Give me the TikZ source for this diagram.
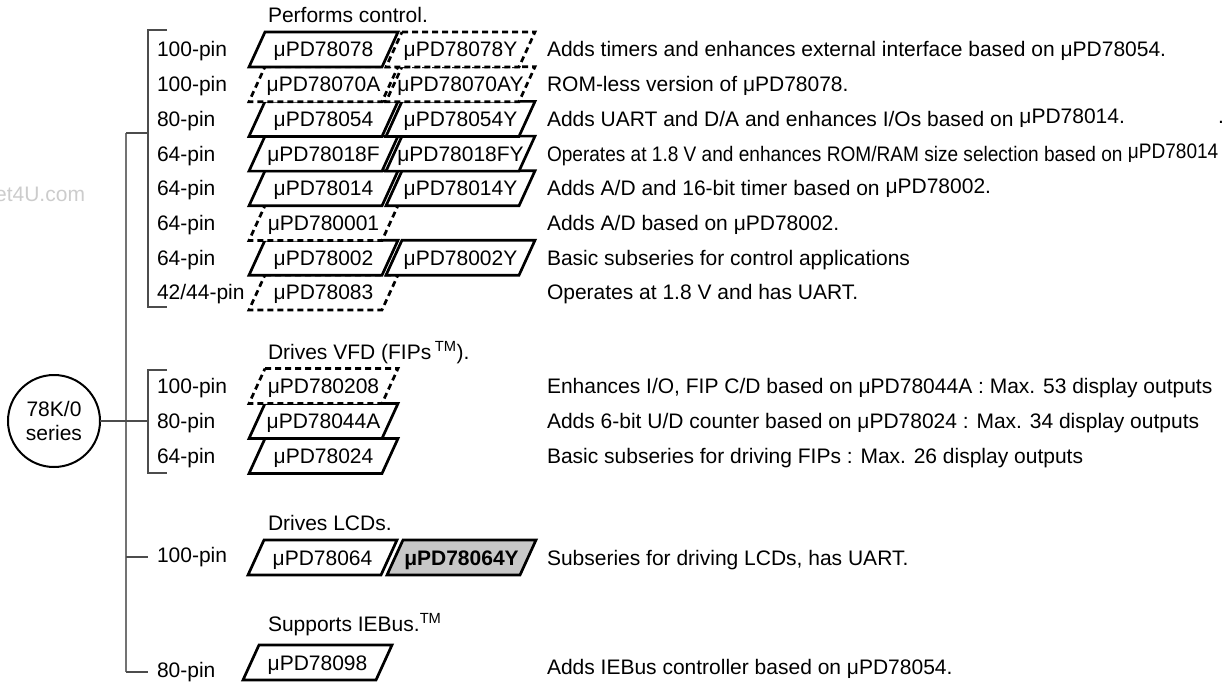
\documentclass[tikz,border=0pt]{standalone}
\usepackage{fontspec}
\setmainfont{Liberation Sans}
\usepackage{graphicx}
\newcommand\pgram[5]{% #1 style, #2 name, #3 x0 (bottom-left), #4 top y, #5 text
  \path[#1] (#3+16,#4) -- (#3+149,#4) -- (#3+133,#4+35) -- (#3,#4+35) -- cycle;
  \node[chip] (#2) at (#3+74.5,#4+25) {#5};}
\begin{document}
\begin{tikzpicture}[x=1pt,y=-1pt,
  every node/.style={inner sep=0pt,outer sep=0pt},
  txt/.style={font=\fontsize{21}{25}\selectfont,anchor=base west},
  chip/.style={font=\fontsize{21}{25}\selectfont,anchor=base},
  ps/.style={draw=black,fill=white,line width=2.7pt,line join=miter},
  pd/.style={draw=black,fill=white,line width=2.7pt,dash pattern=on 6pt off 4pt,
     preaction={draw=white,solid,fill=white}},
  pg/.style={ps,fill=black!22},
  brk/.style={draw=black!70,line width=1.3pt},
  trunk/.style={draw=black!55,line width=2pt}]
\useasboundingbox (0,0) rectangle (1225,682);

% watermark
\node[font=\fontsize{21}{25}\selectfont,text=black!20,anchor=base east] (wm) at (85,201.5) {et4U.com};

% series circle
\node[circle,draw=black,line width=2pt,minimum size=92pt,align=center,
      font=\fontsize{21}{24}\selectfont] (series) at (54,421) {78K/0\\series};

% trunk and brackets
\coordinate (tt) at (126,133);
\coordinate (tb) at (126,672);
\draw[trunk] (tt) -- (tb);
\draw[brk] (167,30) -- (148,30) -- (148,307) -- (167,307);
\draw[brk] (tt) -- (148,133);
\draw[brk] (167,370) -- (148,370) -- (148,473) -- (167,473);
\draw[brk] (series.east) -- (148,421);
\draw[brk] (126,557) -- (148,557);
\draw[brk] (tb) -- (148,672);

% titles
\node[txt] (t1) at (268,22.5) {Performs control.};
\node[txt] (t2) at (268,359.5) {Drives VFD (FIPs\,\textsuperscript{TM}).};
\node[txt] (t3) at (268,530.5) {Drives LCDs.};
\node[txt] (t4) at (268,631.5) {Supports IEBus.\textsuperscript{TM}};

% pin labels
\node[txt] (p1) at (157,56.9) {100-pin};
\node[txt] (p2) at (157,91.6) {100-pin};
\node[txt] (p3) at (157,126.3) {80-pin};
\node[txt] (p4) at (157,161.0) {64-pin};
\node[txt] (p5) at (157,195.7) {64-pin};
\node[txt] (p6) at (157,230.4) {64-pin};
\node[txt] (p7) at (157,265.1) {64-pin};
\node[txt] (p8) at (157,299.8) {42/44-pin};
\node[txt] (v1) at (157,393.5) {100-pin};
\node[txt] (v2) at (157,428.5) {80-pin};
\node[txt] (v3) at (157,463.5) {64-pin};
\node[txt] (l1) at (157,562.5) {100-pin};
\node[txt] (i1) at (157,677.5) {80-pin};

% parallelograms, bottom rows first
\pgram{pd}{c8}{249}{274.9}{μPD78083}
\pgram{ps}{c7}{249}{240.2}{μPD78002}
\pgram{ps}{c7y}{386}{240.2}{μPD78002Y}
\pgram{pd}{c6}{249}{205.5}{μPD780001}
\pgram{ps}{c5}{249}{170.8}{μPD78014}
\pgram{ps}{c5y}{386}{170.8}{μPD78014Y}
\pgram{ps}{c4}{249}{136.1}{μPD78018F}
\pgram{ps}{c4y}{386}{136.1}{μPD78018FY}
\pgram{ps}{c3}{249}{101.4}{μPD78054}
\pgram{ps}{c3y}{386}{101.4}{μPD78054Y}
\pgram{pd}{c2}{249}{66.7}{μPD78070A}
\pgram{pd}{c2y}{386}{66.7}{μPD78070AY}
\pgram{ps}{c1}{249}{32}{μPD78078}
\pgram{pd}{c1y}{386}{32}{μPD78078Y}

\pgram{ps}{f3}{249}{438.5}{μPD78024}
\pgram{ps}{f2}{249}{403.5}{μPD78044A}
\pgram{pd}{f1}{249}{368.5}{μPD780208}

\pgram{ps}{d1}{248}{540}{μPD78064}
\pgram{pg}{d1y}{387}{540}{\bfseries μPD78064Y}

\pgram{ps}{e1}{243}{645}{μPD78098}

% descriptions
\node[txt] (r1) at (547,56.9) {Adds timers and enhances external interface based on μPD78054.};
\node[txt] (r2) at (547,91.6) {ROM-less version of μPD78078.};
\node[txt] (r3) at (547,126.3) {Adds UART and D/A and enhances I/Os based on \raisebox{3pt}{μPD78014.}};
\node[txt] (r3d) at (1218,126.3) {\raisebox{3pt}{.}};
\node[txt] (r4) at (547,161.0) {\scalebox{0.908}[1]{Operates at 1.8 V and enhances ROM/RAM size selection based on \raisebox{3pt}{μPD78014}}};
\node[txt] (r5) at (547,195.7) {Adds A/D and 16-bit timer based on \raisebox{2pt}{μPD78002.}};
\node[txt] (r6) at (547,230.4) {Adds A/D based on μPD78002.};
\node[txt] (r7) at (547,265.1) {Basic subseries for control applications};
\node[txt] (r8) at (547,299.8) {Operates at 1.8 V and has UART.};
\node[txt] (s1) at (547,393.5) {Enhances I/O, FIP C/D based on μPD78044A : Max. 53 display outputs};
\node[txt] (s2) at (547,428.5) {Adds 6-bit U/D counter based on μPD78024 : Max. 34 display outputs};
\node[txt] (s3) at (547,463.5) {Basic subseries for driving FIPs : Max. 26 display outputs};
\node[txt] (s4) at (547,565) {Subseries for driving LCDs, has UART.};
\node[txt] (s5) at (547,674.5) {Adds IEBus controller based on μPD78054.};
\end{tikzpicture}
\end{document}
